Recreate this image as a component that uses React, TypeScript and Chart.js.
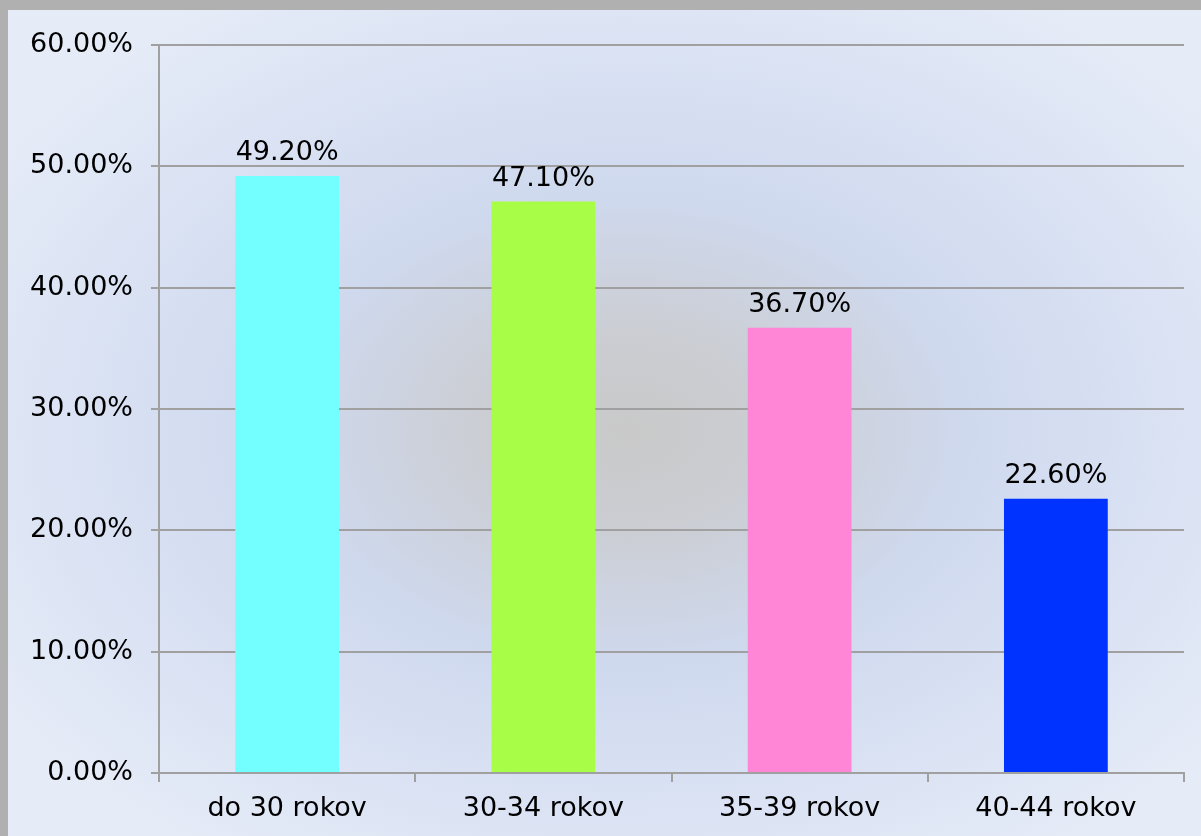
import React, { useEffect, useRef } from "react";
import { Chart, registerables } from "chart.js";

Chart.register(...registerables);

const categories = ["do 30 rokov", "30-34 rokov", "35-39 rokov", "40-44 rokov"];
const values = [49.2, 47.1, 36.7, 22.6];
const barColors = ["#73ffff", "#a8fd47", "#ff85d6", "#0033ff"];
const yMin = 0;
const yMax = 60;
const yStep = 10;

const FONT = "'DejaVu Sans', Verdana, sans-serif";
const FONT_SIZE = 27;
const W = 1201;
const H = 836;

const backgroundPlugin = {
  id: "bgPlugin",
  beforeDraw(chart: any) {
    const ctx = chart.ctx as CanvasRenderingContext2D;
    ctx.save();
    ctx.fillStyle = "#b0b0b0";
    ctx.fillRect(0, 0, chart.width, chart.height);
    const x0 = 8, y0 = 10;
    const cx = 625, cy = 430;
    ctx.beginPath();
    ctx.rect(x0, y0, chart.width - x0, chart.height - y0);
    ctx.clip();
    ctx.translate(cx, cy);
    ctx.scale(1.45, 1);
    const g = ctx.createRadialGradient(0, 0, 0, 0, 0, 520);
    g.addColorStop(0, "#c9c9c9");
    g.addColorStop(0.18, "#cbcdd2");
    g.addColorStop(0.45, "#cfd9ee");
    g.addColorStop(0.75, "#dbe3f4");
    g.addColorStop(1, "#e6ecf7");
    ctx.fillStyle = g;
    ctx.fillRect(-cx / 1.45 - 10, -cy - 10, chart.width / 1.45 + 20, chart.height + 20);
    ctx.restore();
  },
};

const valueLabelPlugin = {
  id: "valueLabels",
  afterDatasetsDraw(chart: any) {
    const ctx = chart.ctx as CanvasRenderingContext2D;
    const meta = chart.getDatasetMeta(0);
    ctx.save();
    ctx.font = `${FONT_SIZE}px ${FONT}`;
    ctx.fillStyle = "#000000";
    ctx.textAlign = "center";
    ctx.textBaseline = "alphabetic";
    meta.data.forEach((bar: any, i: number) => {
      ctx.fillText(values[i].toFixed(2) + "%", bar.x, bar.y - 16);
    });
    ctx.restore();
  },
};

export default function App() {
  const ref = useRef<HTMLCanvasElement | null>(null);

  useEffect(() => {
    if (!ref.current) return;
    const chart = new Chart(ref.current, {
      type: "bar",
      data: {
        labels: categories,
        datasets: [
          {
            data: values,
            backgroundColor: barColors,
            borderWidth: 0,
            barPercentage: 0.405,
            categoryPercentage: 1,
          },
        ],
      },
      options: {
        animation: false,
        responsive: false,
        devicePixelRatio: 1,
        layout: { padding: { left: 0, top: 45, right: 17, bottom: 0 } },
        plugins: {
          legend: { display: false },
          tooltip: { enabled: false },
        },
        scales: {
          x: {
            grid: {
              offset: true,
              drawOnChartArea: false,
              drawTicks: true,
              tickLength: 9,
              color: "#a0a0a0",
              lineWidth: 2,
            },
            border: { display: true, color: "#a0a0a0", width: 2 },
            ticks: {
              color: "#000000",
              font: { family: FONT, size: FONT_SIZE },
              padding: 11,
              maxRotation: 0,
            },
            afterFit(scale: any) {
              scale.height = 63;
            },
          },
          y: {
            min: yMin,
            max: yMax,
            grid: {
              color: "#a0a0a0",
              lineWidth: 2,
              tickLength: 8,
            },
            border: { display: true, color: "#a0a0a0", width: 2 },
            ticks: {
              stepSize: yStep,
              color: "#000000",
              font: { family: FONT, size: FONT_SIZE },
              padding: 18,
              callback: (v: any) => Number(v).toFixed(2) + "%",
            },
            afterFit(scale: any) {
              scale.width = 159;
            },
          },
        },
      },
      plugins: [backgroundPlugin, valueLabelPlugin],
    });
    return () => chart.destroy();
  }, []);

  return (
    <div style={{ position: "fixed", left: 0, top: 0, width: W, height: H, overflow: "hidden" }}>
      <canvas ref={ref} width={W} height={H} style={{ display: "block", width: W, height: H }} />
    </div>
  );
}
